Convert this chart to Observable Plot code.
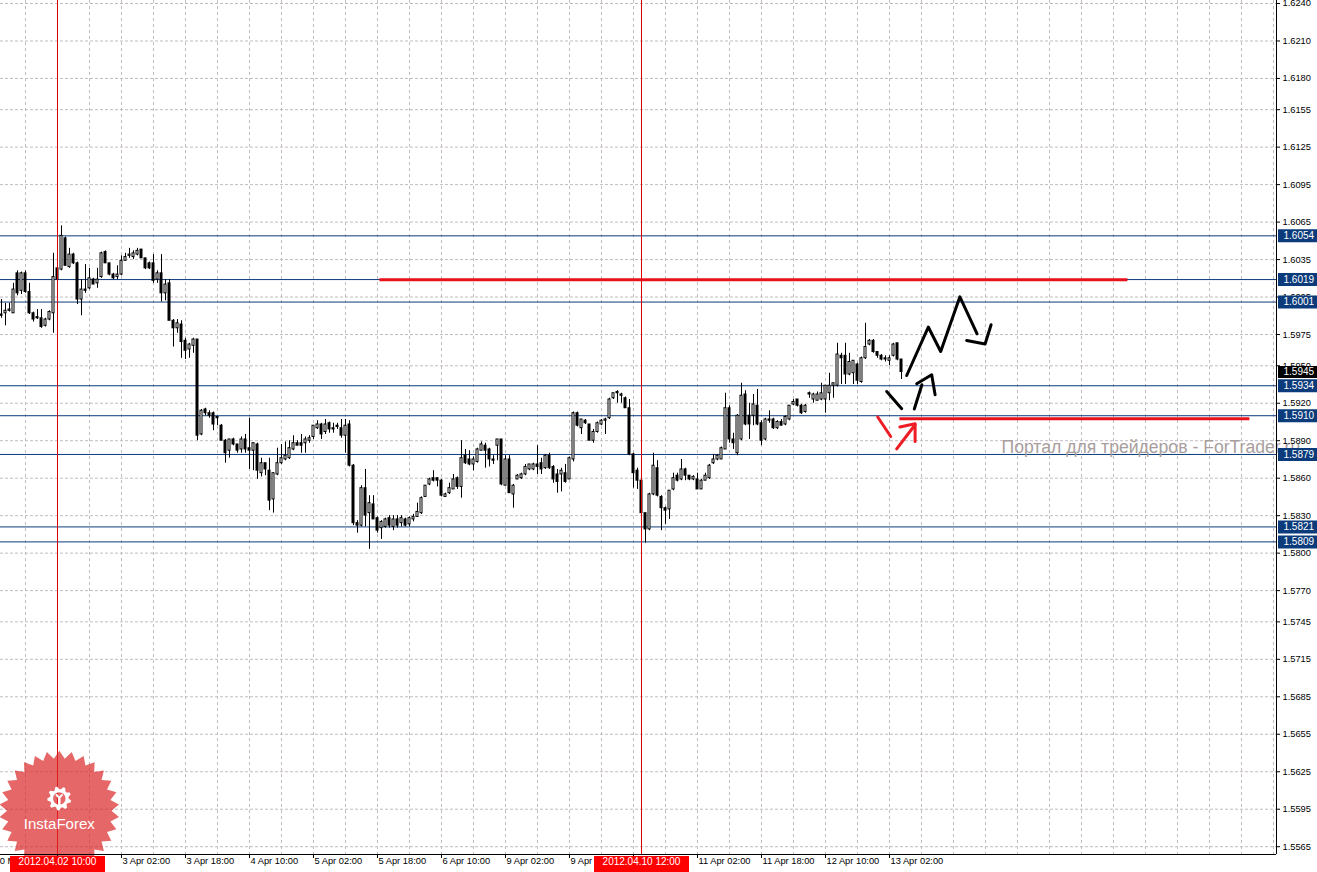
<!DOCTYPE html>
<html>
<head>
<meta charset="utf-8">
<script src="https://cdn.jsdelivr.net/npm/d3@7"></script>
<script src="https://cdn.jsdelivr.net/npm/@observablehq/plot@0.6"></script>
<style>
html, body { margin: 0; padding: 0; background: #fff; }
#chart { width: 1317px; height: 872px; overflow: hidden; }
</style>
</head>
<body>
<div id="chart"></div>
<script>
// ---- Hourly GBP/USD candles (index 0 = 1 Apr 20:00, index 14 = 2 Apr 10:00) ----
const open = [1.5991,1.5992,1.5994,1.5992,1.6024,1.6010,1.6024,1.6009,1.5992,1.5989,1.5988,1.5982,1.5987,1.5992,1.6028,1.6027,1.6052,1.6029,1.6039,1.6032,1.6003,1.6011,1.6012,1.6019,1.6016,1.6021,1.6041,1.6032,1.6023,1.6021,1.6023,1.6034,1.6038,1.6037,1.6039,1.6043,1.6036,1.6032,1.6032,1.6019,1.6024,1.6008,1.6016,1.5986,1.5980,1.5983,1.5970,1.5963,1.5966,1.5971,1.5895,1.5915,1.5912,1.5912,1.5909,1.5902,1.5890,1.5882,1.5891,1.5887,1.5883,1.5891,1.5884,1.5882,1.5887,1.5864,1.5872,1.5866,1.5843,1.5863,1.5872,1.5875,1.5876,1.5883,1.5888,1.5888,1.5888,1.5890,1.5893,1.5900,1.5903,1.5897,1.5904,1.5900,1.5902,1.5900,1.5894,1.5903,1.5870,1.5824,1.5822,1.5852,1.5832,1.5839,1.5828,1.5820,1.5821,1.5828,1.5821,1.5827,1.5824,1.5827,1.5823,1.5827,1.5829,1.5832,1.5845,1.5855,1.5860,1.5860,1.5858,1.5845,1.5848,1.5851,1.5860,1.5853,1.5878,1.5875,1.5871,1.5873,1.5882,1.5886,1.5883,1.5875,1.5886,1.5891,1.5854,1.5875,1.5847,1.5859,1.5860,1.5863,1.5867,1.5867,1.5871,1.5872,1.5868,1.5878,1.5869,1.5863,1.5863,1.5864,1.5859,1.5875,1.5912,1.5900,1.5906,1.5903,1.5890,1.5897,1.5903,1.5906,1.5908,1.5924,1.5929,1.5926,1.5924,1.5916,1.5879,1.5866,1.5858,1.5832,1.5819,1.5847,1.5868,1.5845,1.5836,1.5835,1.5851,1.5862,1.5859,1.5867,1.5862,1.5859,1.5859,1.5851,1.5858,1.5860,1.5872,1.5875,1.5875,1.5883,1.5916,1.5891,1.5880,1.5891,1.5927,1.5910,1.5910,1.5918,1.5904,1.5891,1.5907,1.5907,1.5900,1.5905,1.5903,1.5907,1.5919,1.5923,1.5918,1.5913,1.5928,1.5923,1.5922,1.5923,1.5923,1.5928,1.5934,1.5934,1.5958,1.5958,1.5943,1.5944,1.5951,1.5937,1.5956,1.5967,1.5970,1.5961,1.5958,1.5956,1.5954,1.5958,1.5968,1.5955];
const high = [1.6003,1.6000,1.6000,1.6016,1.6026,1.6025,1.6026,1.6016,1.5993,1.5995,1.5995,1.5988,1.5994,1.6040,1.6030,1.6062,1.6053,1.6044,1.6040,1.6033,1.6019,1.6031,1.6028,1.6020,1.6028,1.6041,1.6042,1.6032,1.6024,1.6030,1.6038,1.6040,1.6044,1.6042,1.6044,1.6043,1.6036,1.6033,1.6039,1.6026,1.6039,1.6019,1.6019,1.5987,1.5987,1.5986,1.5972,1.5968,1.5972,1.5971,1.5915,1.5916,1.5914,1.5913,1.5909,1.5903,1.5891,1.5891,1.5892,1.5887,1.5893,1.5895,1.5908,1.5888,1.5888,1.5876,1.5872,1.5876,1.5864,1.5884,1.5887,1.5889,1.5890,1.5894,1.5890,1.5895,1.5893,1.5894,1.5902,1.5906,1.5904,1.5907,1.5905,1.5904,1.5904,1.5907,1.5907,1.5906,1.5871,1.5826,1.5854,1.5867,1.5846,1.5846,1.5829,1.5826,1.5828,1.5830,1.5830,1.5830,1.5830,1.5828,1.5829,1.5831,1.5840,1.5845,1.5854,1.5860,1.5866,1.5860,1.5859,1.5848,1.5856,1.5863,1.5861,1.5890,1.5883,1.5882,1.5877,1.5884,1.5889,1.5888,1.5884,1.5878,1.5891,1.5891,1.5878,1.5878,1.5855,1.5863,1.5864,1.5871,1.5871,1.5872,1.5886,1.5876,1.5879,1.5880,1.5870,1.5867,1.5868,1.5871,1.5877,1.5913,1.5913,1.5907,1.5907,1.5903,1.5899,1.5905,1.5907,1.5908,1.5924,1.5928,1.5930,1.5928,1.5925,1.5923,1.5880,1.5868,1.5858,1.5832,1.5848,1.5880,1.5874,1.5846,1.5837,1.5850,1.5864,1.5864,1.5875,1.5868,1.5862,1.5862,1.5864,1.5859,1.5864,1.5871,1.5879,1.5879,1.5885,1.5928,1.5918,1.5896,1.5911,1.5936,1.5930,1.5920,1.5927,1.5931,1.5906,1.5908,1.5914,1.5908,1.5906,1.5907,1.5910,1.5918,1.5923,1.5923,1.5919,1.5919,1.5929,1.5928,1.5929,1.5936,1.5934,1.5944,1.5936,1.5968,1.5960,1.5968,1.5960,1.5954,1.5952,1.5957,1.5984,1.5971,1.5971,1.5961,1.5959,1.5958,1.5958,1.5968,1.5968,1.5955];
const low = [1.5988,1.5982,1.5993,1.5992,1.6006,1.6007,1.6008,1.5991,1.5985,1.5987,1.5980,1.5981,1.5986,1.5976,1.6018,1.6026,1.6030,1.6028,1.6031,1.5999,1.5990,1.6008,1.6011,1.6015,1.6012,1.6020,1.6032,1.6022,1.6019,1.6019,1.6022,1.6034,1.6036,1.6035,1.6038,1.6036,1.6027,1.6027,1.6016,1.6016,1.6001,1.6002,1.5986,1.5965,1.5976,1.5956,1.5955,1.5956,1.5960,1.5890,1.5894,1.5910,1.5908,1.5898,1.5902,1.5890,1.5872,1.5876,1.5886,1.5880,1.5880,1.5880,1.5867,1.5866,1.5859,1.5861,1.5862,1.5834,1.5832,1.5862,1.5871,1.5874,1.5875,1.5882,1.5886,1.5880,1.5880,1.5888,1.5891,1.5899,1.5891,1.5895,1.5896,1.5896,1.5899,1.5892,1.5880,1.5869,1.5822,1.5816,1.5821,1.5821,1.5803,1.5827,1.5816,1.5811,1.5820,1.5820,1.5818,1.5820,1.5821,1.5821,1.5821,1.5825,1.5829,1.5831,1.5845,1.5854,1.5857,1.5853,1.5845,1.5845,1.5847,1.5851,1.5851,1.5844,1.5871,1.5870,1.5866,1.5872,1.5882,1.5868,1.5869,1.5871,1.5874,1.5854,1.5854,1.5848,1.5836,1.5859,1.5859,1.5862,1.5866,1.5866,1.5863,1.5863,1.5867,1.5867,1.5856,1.5848,1.5849,1.5856,1.5859,1.5873,1.5901,1.5895,1.5903,1.5890,1.5888,1.5896,1.5902,1.5895,1.5907,1.5923,1.5920,1.5920,1.5916,1.5878,1.5852,1.5851,1.5832,1.5808,1.5818,1.5846,1.5845,1.5818,1.5823,1.5827,1.5850,1.5857,1.5858,1.5858,1.5858,1.5858,1.5851,1.5851,1.5858,1.5859,1.5871,1.5874,1.5875,1.5883,1.5888,1.5883,1.5878,1.5890,1.5902,1.5891,1.5902,1.5902,1.5886,1.5890,1.5904,1.5899,1.5899,1.5902,1.5902,1.5906,1.5918,1.5917,1.5911,1.5912,1.5924,1.5920,1.5922,1.5922,1.5912,1.5922,1.5924,1.5933,1.5935,1.5935,1.5942,1.5935,1.5935,1.5936,1.5955,1.5966,1.5960,1.5956,1.5954,1.5953,1.5950,1.5957,1.5954,1.5939];
const close = [1.5990,1.5994,1.5995,1.6011,1.6008,1.6024,1.6009,1.5992,1.5987,1.5988,1.5981,1.5987,1.5993,1.6021,1.6019,1.6054,1.6030,1.6039,1.6032,1.6003,1.6011,1.6010,1.6020,1.6015,1.6019,1.6040,1.6032,1.6023,1.6020,1.6023,1.6034,1.6037,1.6039,1.6040,1.6042,1.6036,1.6028,1.6028,1.6018,1.6024,1.6008,1.6015,1.5986,1.5980,1.5984,1.5969,1.5962,1.5967,1.5971,1.5894,1.5914,1.5912,1.5910,1.5903,1.5908,1.5890,1.5880,1.5891,1.5887,1.5882,1.5891,1.5883,1.5882,1.5888,1.5866,1.5872,1.5867,1.5842,1.5864,1.5872,1.5876,1.5878,1.5884,1.5888,1.5886,1.5886,1.5891,1.5892,1.5902,1.5903,1.5895,1.5903,1.5899,1.5899,1.5901,1.5894,1.5902,1.5870,1.5824,1.5822,1.5852,1.5830,1.5840,1.5827,1.5818,1.5825,1.5827,1.5822,1.5827,1.5822,1.5828,1.5822,1.5828,1.5829,1.5833,1.5844,1.5854,1.5859,1.5858,1.5858,1.5846,1.5847,1.5852,1.5859,1.5853,1.5876,1.5872,1.5871,1.5875,1.5883,1.5887,1.5882,1.5875,1.5874,1.5891,1.5855,1.5875,1.5848,1.5854,1.5862,1.5863,1.5869,1.5871,1.5871,1.5869,1.5867,1.5878,1.5868,1.5859,1.5857,1.5866,1.5857,1.5876,1.5912,1.5902,1.5907,1.5904,1.5890,1.5897,1.5904,1.5906,1.5907,1.5923,1.5928,1.5928,1.5927,1.5916,1.5879,1.5864,1.5858,1.5832,1.5819,1.5847,1.5870,1.5846,1.5836,1.5834,1.5850,1.5860,1.5858,1.5867,1.5862,1.5859,1.5861,1.5851,1.5858,1.5862,1.5870,1.5875,1.5878,1.5884,1.5916,1.5891,1.5888,1.5910,1.5926,1.5903,1.5903,1.5919,1.5903,1.5890,1.5907,1.5906,1.5900,1.5905,1.5902,1.5909,1.5918,1.5921,1.5918,1.5912,1.5918,1.5927,1.5927,1.5927,1.5928,1.5934,1.5934,1.5936,1.5959,1.5956,1.5943,1.5953,1.5954,1.5938,1.5956,1.5965,1.5970,1.5961,1.5958,1.5955,1.5955,1.5956,1.5967,1.5955,1.5945];

// ---- price axis ----
const priceTicks = [1.6240,1.6210,1.6180,1.6155,1.6125,1.6095,1.6065,1.6035,1.6005,1.5975,1.5950,1.5920,1.5890,1.5860,1.5830,1.5800,1.5770,1.5745,1.5715,1.5685,1.5655,1.5625,1.5595,1.5565];
const levels = [1.6054,1.6019,1.6001,1.5934,1.5910,1.5879,1.5821,1.5809];
const bid = [1.5945];

// ---- time axis (candle index of each tick) ----
const timeTickIndex = [-2,14,30,46,62,78,94,110,126,142,158,174,190,206,222];
const timeTickLabels = ["30 Mar 2012","2 Apr 10:00","3 Apr 02:00","3 Apr 18:00","4 Apr 10:00","5 Apr 02:00","5 Apr 18:00","6 Apr 10:00","9 Apr 02:00","9 Apr 18:00","10 Apr 10:00","11 Apr 02:00","11 Apr 18:00","12 Apr 10:00","13 Apr 02:00"];
const crosshairIndex = [14,160];
const crosshairLabels = ["2012.04.02 10:00","2012.04.10 12:00"];

// ---- drawn annotations (candle index, price) ----
const redLevelLines = [
  {i1: 94.6, i2: 281.6, p: 1.60188},
  {i1: 224.6, i2: 312.1, p: 1.59076}
];
const blackStrokes = [
  [[226.3,1.59422],[231.7,1.59810],[234.8,1.59614],[239.6,1.60052],[243.9,1.59756]],
  [[241.3,1.59702],[245.9,1.59674],[247.4,1.59828]],
  [[221.3,1.59294],[225.05,1.59156]],
  [[228.2,1.59154],[230.1,1.59348]],
  [[228.8,1.59356],[232.55,1.59428],[233.4,1.59268]]
];
const redStrokes = [
  [[219.05,1.59090],[222.3,1.58934]],
  [[223.8,1.58834],[228.4,1.59028]],
  [[224.6,1.59010],[228.4,1.59036],[228.4,1.58894]]
];
const watermark = [{i: 250, p: 1.58848, text: "Портал для трейдеров - ForTrader.ru"}];
const logo = {i: 14.45, star: 1.55938, gear: 1.56036, label: 1.55832, text: "InstaForex"};

// ---- build ----
const candles = open.map((o, i) => ({i, o, h: high[i], l: low[i], c: close[i]}));
const upCandles = candles.filter(d => d.c - d.o > 0.00009);
const flat = (strokes) => strokes.flatMap((s, k) => s.map(([i, p]) => ({i, p, k})));
const timeTicks = timeTickIndex.map((i, k) => ({i, label: timeTickLabels[k]}));
// labels completely hidden under the red crosshair date boxes are not drawn
const visibleTimeTicks = timeTicks.filter(t => !crosshairIndex.some(c => Math.abs(c - t.i) < 3));
const crosshairs = crosshairIndex.map((i, k) => ({i, label: crosshairLabels[k]}));

const xDomain = [-0.25, 318.75];
const yDomain = [1.555876, 1.62424];
const font = "'Liberation Sans', Arial, sans-serif";
const gridColor = "#c2bcc2";
const levelBlue = "#0b3b7b";

const starburst = {
  draw(ctx, size) {
    const R = Math.sqrt(size / Math.PI), r = R * 0.87, n = 30;
    for (let k = 0; k < 2 * n; ++k) {
      const a = Math.PI * k / n - Math.PI / 2, q = k % 2 ? r : R;
      const x = q * Math.cos(a), y = q * Math.sin(a);
      if (k) ctx.lineTo(x, y); else ctx.moveTo(x, y);
    }
    ctx.closePath();
  }
};
const gear = {
  draw(ctx, size) {
    const R = Math.sqrt(size / Math.PI), r = R * 0.78, m = 36;
    for (let k = 0; k < m; ++k) {
      const a = 2 * Math.PI * k / m, q = (k % 4 === 1 || k % 4 === 2) ? R : r;
      const x = q * Math.cos(a), y = q * Math.sin(a);
      if (k) ctx.lineTo(x, y); else ctx.moveTo(x, y);
    }
    ctx.closePath();
    const h = R * 0.52;
    ctx.moveTo(h, 0);
    ctx.arc(0, 0, h, 0, 2 * Math.PI, true);
  }
};
const figure = {
  draw(ctx, size) {
    const R = Math.sqrt(size / Math.PI);
    ctx.moveTo(-R, -R * 0.9); ctx.lineTo(-R * 0.3, -R * 0.1); ctx.lineTo(-R * 0.3, R * 2.2);
    ctx.lineTo(R * 0.3, R * 2.2); ctx.lineTo(R * 0.3, -R * 0.1); ctx.lineTo(R, -R * 0.9);
    ctx.lineTo(R * 0.6, -R * 1.2); ctx.lineTo(0, -R * 0.5); ctx.lineTo(-R * 0.6, -R * 1.2);
    ctx.closePath();
  }
};

const chart = Plot.plot({
  width: 1317,
  height: 872,
  marginTop: 0,
  marginLeft: 0,
  marginRight: 41,
  marginBottom: 18,
  x: {domain: xDomain, axis: null},
  y: {domain: yDomain, axis: null},
  style: {fontFamily: font, background: "white"},
  marks: [
    // grid
    Plot.ruleY(priceTicks, {stroke: gridColor, strokeDasharray: "3,2"}),
    Plot.ruleX(d3.range(6, xDomain[1], 8), {stroke: gridColor, strokeDasharray: "3,3"}),
    // support / resistance levels
    Plot.ruleY(levels, {stroke: levelBlue}),
    Plot.ruleY(redLevelLines, {y: "p", x1: "i1", x2: "i2", stroke: "#e8121b", strokeWidth: 3}),
    // watermark
    Plot.text(watermark, {x: "i", y: "p", text: "text", textAnchor: "start", fontSize: 17.6, fill: "#a89e9e"}),
    // candles
    Plot.ruleX(candles, {x: "i", y1: "l", y2: "h", stroke: "black"}),
    Plot.rect(candles, {x1: d => d.i - 0.375, x2: d => d.i + 0.375, y1: "o", y2: "c", fill: "black", insetTop: -0.5, insetBottom: -0.5}),
    Plot.rect(upCandles, {x1: d => d.i - 0.125, x2: d => d.i + 0.125, y1: "o", y2: "c", fill: "white", insetTop: 0.5, insetBottom: 0.5}),
    // hand-drawn forecast
    Plot.line(flat(blackStrokes), {x: "i", y: "p", z: "k", stroke: "black", strokeWidth: 3, strokeLinecap: "round", strokeLinejoin: "round"}),
    Plot.line(flat(redStrokes), {x: "i", y: "p", z: "k", stroke: "#ee1c24", strokeWidth: 3, strokeLinecap: "round", strokeLinejoin: "round"}),
    // crosshair verticals
    Plot.ruleX(crosshairIndex, {stroke: "#e00000"}),
    // logo
    Plot.dot([logo], {x: "i", y: "star", r: 60, symbol: starburst, fill: "#dc2626", fillOpacity: 0.7, stroke: "none"}),
    Plot.dot([logo], {x: "i", y: "gear", r: 12, symbol: gear, fill: "white", stroke: "none"}),
    Plot.dot([logo], {x: "i", y: "gear", r: 4, symbol: figure, fill: "white", stroke: "none"}),
    Plot.text([logo], {x: "i", y: "label", text: "text", fill: "white", fontSize: 15}),
    // axis lines
    Plot.ruleX([xDomain[1]], {stroke: "black"}),
    Plot.ruleY([yDomain[0]], {stroke: "black"}),
    // price axis ticks & labels
    Plot.ruleY(priceTicks, {stroke: "black", insetLeft: 1276, insetRight: -4}),
    Plot.text(priceTicks, {y: d => d, text: d => d.toFixed(4), frameAnchor: "right", textAnchor: "start", dx: 6, fontSize: 9.3, fill: "black"}),
    Plot.ruleY(levels, {stroke: levelBlue, strokeWidth: 13, insetLeft: 1278, insetRight: -41}),
    Plot.text(levels, {y: d => d, text: d => d.toFixed(4), frameAnchor: "right", textAnchor: "start", dx: 7, fontSize: 10, fill: "white"}),
    Plot.ruleY(bid, {stroke: "black", strokeWidth: 12, insetLeft: 1278, insetRight: -41}),
    Plot.text(bid, {y: d => d, text: d => d.toFixed(4), frameAnchor: "right", textAnchor: "start", dx: 7, fontSize: 10, fill: "white"}),
    // time axis ticks & labels
    Plot.ruleX(timeTickIndex, {stroke: "black", insetTop: 854, insetBottom: -4}),
    Plot.text(visibleTimeTicks, {x: "i", text: "label", frameAnchor: "bottom", textAnchor: "start", dx: 1, dy: 9, fontSize: 9.3, fill: "black"}),
    Plot.ruleX(crosshairIndex, {stroke: "#ff0000", strokeWidth: 95, insetTop: 856, insetBottom: -18}),
    Plot.text(crosshairs, {x: "i", text: "label", frameAnchor: "bottom", dy: 10, fontSize: 10, fill: "white"})
  ]
});
document.getElementById("chart").appendChild(chart);
</script>
</body>
</html>
